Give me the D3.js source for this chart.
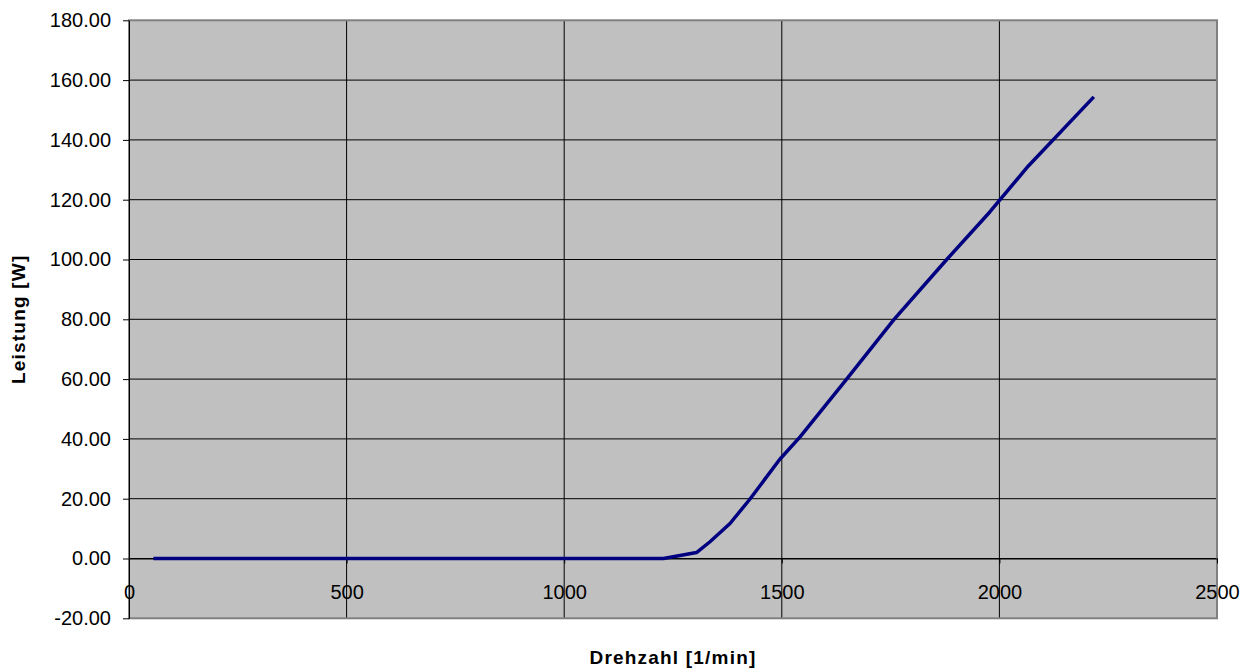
<!DOCTYPE html>
<html lang="de">
<head>
<meta charset="UTF-8">
<title>Leistung</title>
<script src="https://d3js.org/d3.v7.min.js"></script>
<style>
  body { margin: 0; background: #fff; }
  svg { display: block; font-family: "Liberation Sans", Arial, sans-serif; }
  .tick text { font-size: 20px; fill: #000; }
  .title { font-size: 19px; font-weight: bold; letter-spacing: 1.2px; }
</style>
</head>
<body>
<svg width="1252" height="671"></svg>
<script>
// Drehzahl [1/min]
var rpm = [56, 118, 178, 238, 298, 357, 417, 477, 540, 602, 661, 721, 781, 840, 900, 960, 1019, 1080, 1140, 1228,
           1304, 1335, 1381, 1427, 1495, 1542, 1649, 1758, 1879, 1978, 2066, 2217];
// Leistung [W]
var power = [0, 0, 0, 0, 0, 0, 0, 0, 0, 0, 0, 0, 0, 0, 0, 0, 0, 0, 0, 0,
             2.0, 5.6, 11.7, 19.9, 33.1, 40.7, 60.0, 80.0, 100.0, 115.9, 131.2, 154.4];
var xTicks = [0, 500, 1000, 1500, 2000, 2500];
var yTicks = [-20, 0, 20, 40, 60, 80, 100, 120, 140, 160, 180];

var data = rpm.map((r, i) => ({ rpm: r, p: power[i] }));

var svg = d3.select("svg");
var pLeft = 129, pRight = 1217, pTop = 20.3, pBottom = 618.3;

var x = d3.scaleLinear().domain([0, 2500]).range([pLeft, pRight]);
var y = d3.scaleLinear().domain([-20, 180]).range([pBottom, pTop]);

// plot area
svg.append("rect")
    .attr("x", pLeft).attr("y", pTop)
    .attr("width", pRight - pLeft).attr("height", pBottom - pTop)
    .attr("fill", "#c0c0c0");

// gridlines
svg.append("g").selectAll("line")
    .data(yTicks.filter(d => d > -20 && d < 180))
    .enter().append("line")
    .attr("x1", pLeft).attr("x2", pRight)
    .attr("y1", d => y(d)).attr("y2", d => y(d))
    .attr("stroke", "#000").attr("stroke-width", 1);

svg.append("g").selectAll("line")
    .data(xTicks.filter(d => d > 0 && d < 2500))
    .enter().append("line")
    .attr("x1", d => x(d)).attr("x2", d => x(d))
    .attr("y1", pTop).attr("y2", pBottom)
    .attr("stroke", "#000").attr("stroke-width", 1);

// border
svg.append("rect")
    .attr("x", pLeft).attr("y", pTop)
    .attr("width", pRight - pLeft).attr("height", pBottom - pTop)
    .attr("fill", "none").attr("stroke", "#808080").attr("stroke-width", 2);

// y axis (plain hyphen for negatives, like the original)
var fmt = d3.format(".2f");
var yAxis = d3.axisLeft(y).tickValues(yTicks).tickFormat(d => fmt(d).replace("\u2212", "-"))
    .tickSizeInner(6).tickSizeOuter(0).tickPadding(12);
svg.append("g").attr("transform", "translate(" + pLeft + ",0)").call(yAxis)
    .call(g => g.selectAll("path,line").attr("stroke", "#000"));

// x axis crosses at 0
var xAxis = d3.axisBottom(x).tickValues(xTicks).tickFormat(d3.format("d"))
    .tickSizeInner(5).tickSizeOuter(0);
svg.append("g").attr("transform", "translate(0," + y(0) + ")").call(xAxis)
    .call(g => g.selectAll("path,line").attr("stroke", "#000"))
    .call(g => g.selectAll("text").attr("y", 26));

// data line
svg.append("path")
    .datum(data)
    .attr("fill", "none")
    .attr("stroke", "#000080")
    .attr("stroke-width", 3.5)
    .attr("stroke-linejoin", "round")
    .attr("d", d3.line().x(d => x(d.rpm)).y(d => y(d.p)));

// axis titles
svg.append("text").attr("class", "title")
    .attr("x", (pLeft + pRight) / 2).attr("y", 664)
    .attr("text-anchor", "middle")
    .text("Drehzahl [1/min]");

svg.append("text").attr("class", "title")
    .attr("transform", "translate(25," + (pTop + pBottom) / 2 + ") rotate(-90)")
    .attr("text-anchor", "middle")
    .text("Leistung [W]");
</script>
</body>
</html>
